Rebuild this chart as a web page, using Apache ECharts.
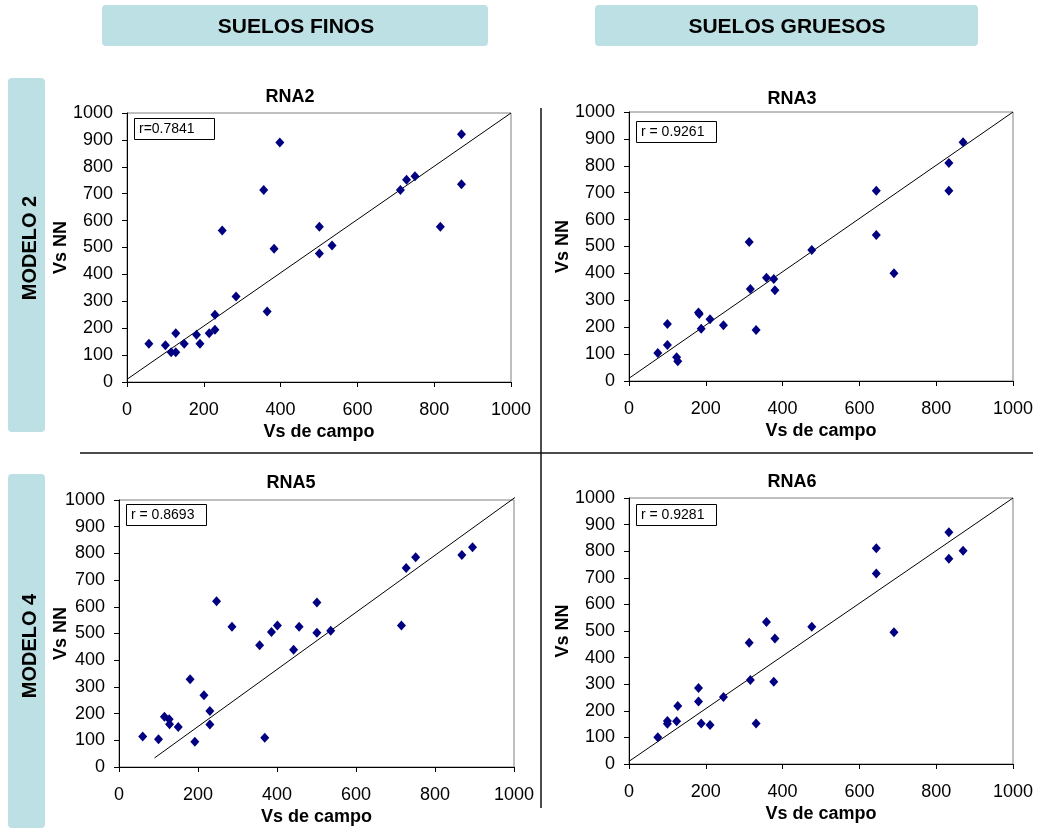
<!DOCTYPE html>
<html>
<head>
<meta charset="utf-8">
<title>Vs NN vs Vs de campo</title>
<script src="https://cdn.jsdelivr.net/npm/echarts@6.0.0/dist/echarts.min.js"></script>
<style>
  html, body { margin: 0; padding: 0; background: #fff; }
  #chart { width: 1039px; height: 830px; }
</style>
</head>
<body>
<div id="chart"></div>
<script>
// RNA2 (suelos finos, modelo 2)
const rna2Campo = [57, 100, 115, 127, 127, 149, 181, 190, 214, 229, 229, 248, 284, 356, 365, 383, 398, 501, 501, 534, 712, 728, 750, 816, 871, 871]
const rna2NN = [142, 137, 111, 111, 181, 142, 176, 142, 181, 194, 250, 563, 318, 714, 262, 495, 890, 577, 478, 507, 714, 752, 765, 577, 921, 735]
const rna2LineX = [0, 1000]
const rna2LineY = [10, 1000]

// RNA3 (suelos gruesos, modelo 2)
const rna3Campo = [75, 100, 100, 124, 127, 181, 183, 188, 211, 246, 313, 316, 331, 358, 377, 380, 476, 644, 644, 690, 833, 833, 870]
const rna3NN = [104, 212, 134, 88, 73, 255, 249, 194, 230, 207, 517, 342, 190, 384, 379, 337, 487, 707, 543, 401, 810, 707, 888]
const rna3LineX = [0, 1000]
const rna3LineY = [10, 1000]

// RNA5 (suelos finos, modelo 4)
const rna5Campo = [60, 100, 115, 127, 128, 150, 180, 192, 215, 230, 230, 247, 286, 356, 369, 386, 401, 442, 456, 501, 501, 536, 715, 727, 751, 868, 895]
const rna5NN = [114, 104, 188, 179, 160, 150, 329, 95, 269, 210, 159, 621, 525, 456, 110, 506, 530, 439, 525, 616, 503, 510, 530, 745, 786, 794, 823]
const rna5LineX = [90, 1017]
const rna5LineY = [34, 1025]

// RNA6 (suelos gruesos, modelo 4)
const rna6Campo = [75, 100, 100, 124, 127, 181, 181, 188, 211, 246, 313, 316, 331, 358, 377, 380, 476, 644, 644, 690, 833, 833, 870]
const rna6NN = [101, 162, 151, 161, 218, 286, 235, 152, 147, 252, 456, 316, 152, 534, 309, 472, 516, 811, 716, 495, 871, 772, 802]
const rna6LineX = [0, 1000]
const rna6LineY = [10, 1000]

const panelTitles = ['RNA2', 'RNA3', 'RNA5', 'RNA6']
const rLabels = ['r=0.7841', 'r = 0.9261', 'r = 0.8693', 'r = 0.9281']
const columnTitles = ['SUELOS FINOS', 'SUELOS GRUESOS']
const rowTitles = ['MODELO 2', 'MODELO 4']

const panels = [
  { x: rna2Campo, y: rna2NN, lx: rna2LineX, ly: rna2LineY, grid: { left: 127, top: 113, width: 384, height: 269 }, titleX: 290, titleY: 88, rbox: [134, 118], yGap: 57 },
  { x: rna3Campo, y: rna3NN, lx: rna3LineX, ly: rna3LineY, grid: { left: 629, top: 112, width: 384, height: 269 }, titleX: 792, titleY: 90, rbox: [636, 121], yGap: 57 },
  { x: rna5Campo, y: rna5NN, lx: rna5LineX, ly: rna5LineY, grid: { left: 119, top: 500, width: 395, height: 267 }, titleX: 291, titleY: 474, rbox: [126, 504], yGap: 49 },
  { x: rna6Campo, y: rna6NN, lx: rna6LineX, ly: rna6LineY, grid: { left: 629, top: 498, width: 384, height: 266 }, titleX: 792, titleY: 473, rbox: [636, 504], yGap: 57 },
]

const FONT = 'Liberation Sans, Arial, sans-serif'
const boxColor = '#bde0e4'

const zip = (a, b) => a.map((v, i) => [v, b[i]])

const chart = echarts.init(document.getElementById('chart'), null, { renderer: 'canvas' })

const axisCommon = {
  min: 0,
  max: 1000,
  nameMoveOverlap: false,
  axisLine: { show: true, onZero: false, lineStyle: { color: '#000', width: 1 } },
  axisTick: { show: true, inside: false, length: 5, lineStyle: { color: '#000' } },
  axisLabel: { color: '#000', fontSize: 18, fontFamily: FONT, formatter: v => String(v) },
  splitLine: { show: false },
  nameTextStyle: { color: '#000', fontSize: 18, fontWeight: 'bold', fontFamily: FONT },
}

// r boxes drawn as graphic rect + text
const rBoxes = panels.flatMap((p, i) => [
  { type: 'rect', shape: { x: p.rbox[0] + 0.5, y: p.rbox[1] + 0.5, width: 80, height: 21 }, style: { fill: '#fff', stroke: '#000', lineWidth: 1 }, z: 10 },
  { type: 'text', x: p.rbox[0] + 5, y: p.rbox[1] + 11.5, style: { text: rLabels[i], font: '14px ' + FONT, fill: '#000', verticalAlign: 'middle' }, z: 11 },
])

const option = {
  animation: false,
  backgroundColor: '#fff',
  title: panels.map((p, i) => ({
    text: panelTitles[i],
    left: p.titleX,
    top: p.titleY,
    textAlign: 'center',
    padding: 0,
    textStyle: { fontSize: 18, fontWeight: 'bold', color: '#000', fontFamily: FONT },
  })),
  grid: panels.map(p => ({ ...p.grid, show: true, borderColor: '#808080', borderWidth: 1, backgroundColor: 'transparent' })),
  xAxis: panels.map((p, i) => ({
    ...axisCommon,
    type: 'value',
    gridIndex: i,
    interval: 200,
    name: 'Vs de campo',
    nameLocation: 'middle',
    nameGap: 41,
    axisLabel: { ...axisCommon.axisLabel, margin: 19 },
  })),
  yAxis: panels.map((p, i) => ({
    ...axisCommon,
    type: 'value',
    gridIndex: i,
    interval: 100,
    name: 'Vs NN',
    nameLocation: 'middle',
    nameGap: p.yGap,
    axisLabel: { ...axisCommon.axisLabel, margin: 14 },
  })),
  series: panels.flatMap((p, i) => [
    {
      type: 'line',
      xAxisIndex: i,
      yAxisIndex: i,
      data: zip(p.lx, p.ly),
      symbol: 'none',
      clip: false,
      lineStyle: { color: '#000', width: 1 },
      z: 2,
    },
    {
      type: 'scatter',
      xAxisIndex: i,
      yAxisIndex: i,
      data: zip(p.x, p.y),
      symbol: 'diamond',
      symbolSize: [9, 10],
      itemStyle: { color: '#000080', opacity: 1 },
      z: 3,
    },
  ]),
  graphic: [
    // column headers
    { type: 'rect', shape: { x: 102, y: 5, width: 386, height: 41, r: 4 }, style: { fill: boxColor }, z: 0 },
    { type: 'rect', shape: { x: 595, y: 5, width: 383, height: 41, r: 4 }, style: { fill: boxColor }, z: 0 },
    { type: 'text', x: 296, y: 27, style: { text: columnTitles[0], font: 'bold 21px ' + FONT, fill: '#000', align: 'center', verticalAlign: 'middle' }, z: 1 },
    { type: 'text', x: 787, y: 27, style: { text: columnTitles[1], font: 'bold 21px ' + FONT, fill: '#000', align: 'center', verticalAlign: 'middle' }, z: 1 },
    // row headers
    { type: 'rect', shape: { x: 8, y: 78, width: 37, height: 354, r: 4 }, style: { fill: boxColor }, z: 0 },
    { type: 'rect', shape: { x: 8, y: 474, width: 37, height: 354, r: 4 }, style: { fill: boxColor }, z: 0 },
    { type: 'text', x: 30, y: 248, rotation: Math.PI / 2, style: { text: rowTitles[0], font: 'bold 20px ' + FONT, fill: '#000', align: 'center', verticalAlign: 'middle' }, z: 1 },
    { type: 'text', x: 30, y: 646, rotation: Math.PI / 2, style: { text: rowTitles[1], font: 'bold 20px ' + FONT, fill: '#000', align: 'center', verticalAlign: 'middle' }, z: 1 },
    // dividers
    { type: 'line', shape: { x1: 541, y1: 108, x2: 541, y2: 808 }, style: { stroke: '#111', lineWidth: 1.5 }, z: 1 },
    { type: 'line', shape: { x1: 80, y1: 453, x2: 1033, y2: 453 }, style: { stroke: '#111', lineWidth: 1.5 }, z: 1 },
    ...rBoxes,
  ],
}

chart.setOption(option)
</script>
</body>
</html>
